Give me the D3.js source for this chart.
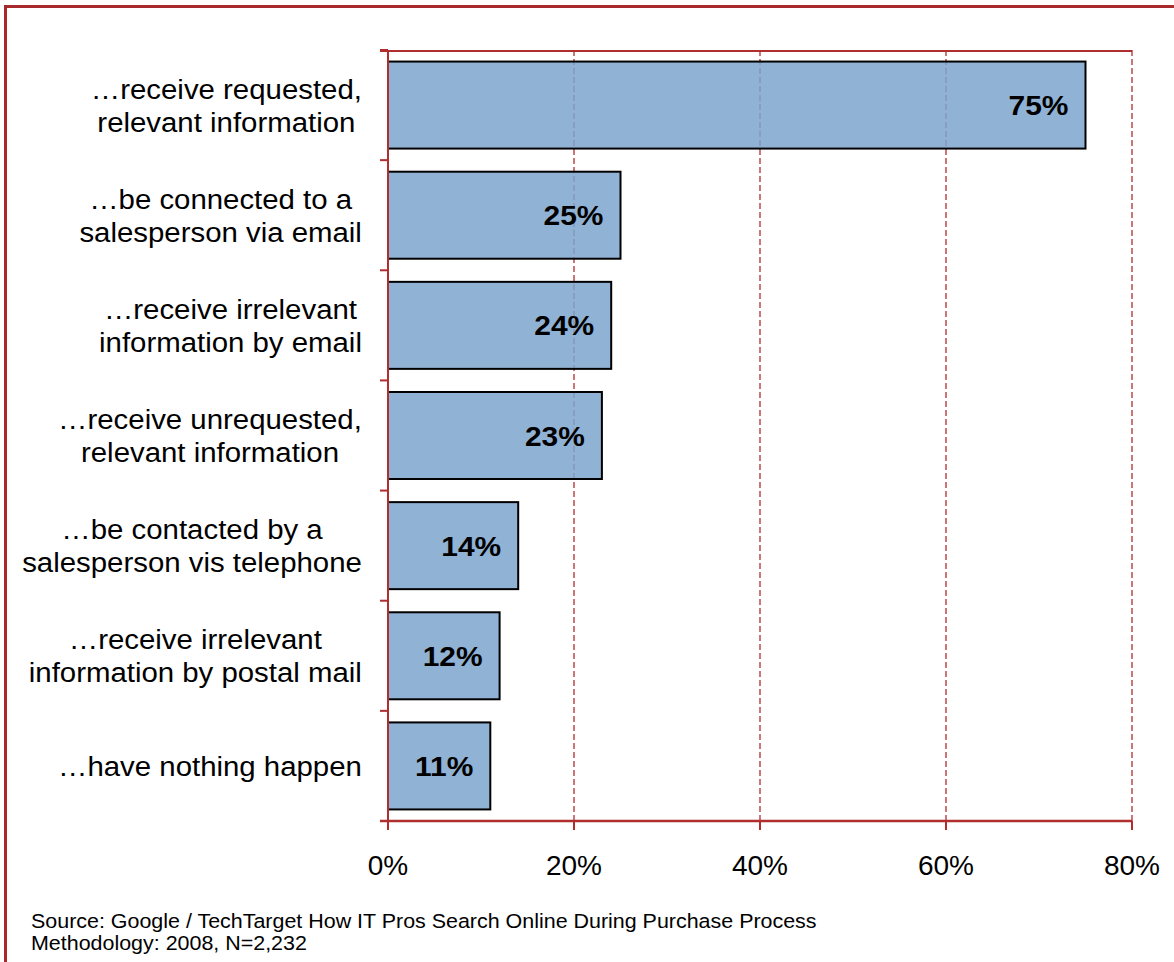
<!DOCTYPE html>
<html>
<head>
<meta charset="utf-8">
<script src="https://cdn.jsdelivr.net/npm/d3@7"></script>
<style>
    body { margin: 0; background: #fff; }
    svg { display: block; font-family: Arial, "Liberation Sans", sans-serif; }
</style>
</head>
<body>
<div class="wrapper"></div>
<script>
let width = 1174;
let height = 962;

let categories = [
    ["…receive requested,", "relevant information"],
    ["…be connected to a", "salesperson via email"],
    ["…receive irrelevant", "information by email"],
    ["…receive unrequested,", "relevant information"],
    ["…be contacted by a", "salesperson vis telephone"],
    ["…receive irrelevant", "information by postal mail"],
    ["…have nothing happen"]
];
let values = [75, 25, 24, 23, 14, 12, 11];
let xTicks = [0, 20, 40, 60, 80];
let sourceLines = [
    "Source: Google / TechTarget How IT Pros Search Online During Purchase Process",
    "Methodology: 2008, N=2,232"
];

let red = "#b02e2e";
let plotLeft = 388, plotRight = 1132, plotTop = 50, plotBottom = 821;

// the original text is a little wider than plain Arial
function stretch(sel, sx, xf, yf) {
    sel.attr("x", 0).attr("y", 0)
        .attr("transform", function (d, i) {
            return "translate(" + xf(d, i) + "," + yf(d, i) + ") scale(" + sx + ",1)";
        });
}

let svg = d3.select(".wrapper")
    .append("svg")
    .attr("width", width)
    .attr("height", height);

// outer frame
svg.append("rect")
    .attr("x", 5.5).attr("y", 6.5)
    .attr("width", width + 20).attr("height", height + 20)
    .attr("fill", "none")
    .attr("stroke", "#a8292b")
    .attr("stroke-width", 3);

let x = d3.scaleLinear().domain([0, 80]).range([plotLeft, plotRight]);
let y = d3.scaleBand()
    .domain(d3.range(values.length))
    .range([plotTop, plotBottom])
    .paddingInner(0.21)
    .paddingOuter(0.105);

// gridlines (drawn under the bars, bars are slightly see-through)
svg.selectAll(".grid")
    .data(xTicks.slice(1))
    .enter()
    .append("line")
    .classed("grid", true)
    .attr("x1", d => x(d)).attr("x2", d => x(d))
    .attr("y1", plotTop).attr("y2", plotBottom)
    .attr("stroke", red)
    .attr("stroke-width", 1.3)
    .attr("stroke-dasharray", "6,3");

svg.selectAll(".bar")
    .data(values)
    .enter()
    .append("rect")
    .classed("bar", true)
    .attr("x", x(0))
    .attr("y", (d, i) => y(i))
    .attr("width", d => x(d) - x(0))
    .attr("height", y.bandwidth())
    .attr("fill", "#7ca4ce")
    .attr("fill-opacity", 0.85)
    .attr("stroke", "#000")
    .attr("stroke-width", 2);

// top border
svg.append("line")
    .attr("x1", plotLeft - 8).attr("x2", plotRight)
    .attr("y1", plotTop + 1).attr("y2", plotTop + 1)
    .attr("stroke", red).attr("stroke-width", 2);

// y axis + ticks at band boundaries
svg.append("line")
    .attr("x1", plotLeft).attr("x2", plotLeft)
    .attr("y1", plotTop).attr("y2", plotBottom + 9)
    .attr("stroke", red).attr("stroke-width", 2);

svg.selectAll(".ytick")
    .data(d3.range(values.length + 1))
    .enter()
    .append("line")
    .classed("ytick", true)
    .attr("x1", plotLeft - 8).attr("x2", plotLeft)
    .attr("y1", i => plotTop + i * y.step()).attr("y2", i => plotTop + i * y.step())
    .attr("stroke", red).attr("stroke-width", 2);

// x axis
svg.append("line")
    .attr("x1", plotLeft - 8).attr("x2", plotRight)
    .attr("y1", plotBottom).attr("y2", plotBottom)
    .attr("stroke", red).attr("stroke-width", 2.5);

svg.selectAll(".xtick")
    .data(xTicks)
    .enter()
    .append("line")
    .classed("xtick", true)
    .attr("x1", d => x(d)).attr("x2", d => x(d))
    .attr("y1", plotBottom).attr("y2", plotBottom + 9)
    .attr("stroke", red).attr("stroke-width", 2);

svg.selectAll(".xlabel")
    .data(xTicks)
    .enter()
    .append("text")
    .classed("xlabel", true)
    .attr("x", d => x(d))
    .attr("y", 875)
    .attr("text-anchor", "middle")
    .attr("font-size", "28px")
    .text(d => d + "%");

// value labels
svg.selectAll(".value")
    .data(values)
    .enter()
    .append("text")
    .classed("value", true)
    .attr("text-anchor", "end")
    .attr("font-size", "28px")
    .attr("font-weight", "bold")
    .text(d => d + "%")
    .call(stretch, 1.07, d => x(d) - 17, (d, i) => y(i) + y.bandwidth() / 2 + 10);

// category labels, centred block ending at the axis
let labelRight = 362;
let lineH = 33;
let catStretch = 1.05;
categories.forEach((lines, i) => {
    let cy = y(i) + y.bandwidth() / 2;
    let g = svg.append("g").classed("cat", true);
    let texts = lines.map(line => g.append("text")
        .attr("font-size", "28px")
        .attr("text-anchor", "middle")
        .text(line));
    let maxW = d3.max(texts, t => t.node().getComputedTextLength()) * catStretch;
    texts.forEach((t, k) => t.call(stretch, catStretch,
        () => labelRight - maxW / 2,
        () => cy + 10 + (k - (lines.length - 1) / 2) * lineH));
});

svg.selectAll(".source")
    .data(sourceLines)
    .enter()
    .append("text")
    .classed("source", true)
    .attr("font-size", "19.5px")
    .text(d => d)
    .call(stretch, 1.1, () => 31, (d, i) => 928 + i * 22);
</script>
</body>
</html>
